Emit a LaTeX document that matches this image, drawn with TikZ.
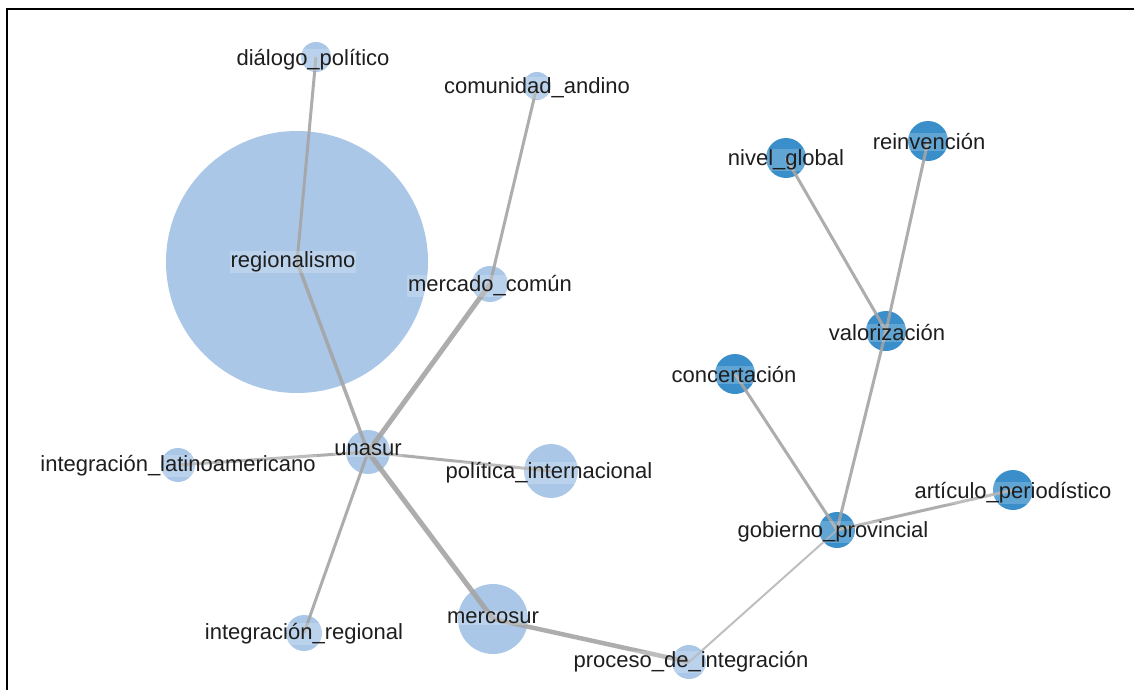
\documentclass[tikz,border=0pt]{standalone}
\usepackage{fontspec}
\setmainfont{Liberation Sans}
\begin{document}
\begin{tikzpicture}[x=1pt,y=-1pt,
  light/.style={circle,fill=lightnode,draw=none,inner sep=0pt,minimum size=#1},
  dark/.style={circle,fill=darknode,draw=none,inner sep=0pt,minimum size=#1},
  lbl/.style={fill=white,fill opacity=0.2,text opacity=1,text=labeltext,inner sep=1pt,font=\fontsize{22}{24}\selectfont},
  edge/.style={draw=edgegray,line width=#1,draw opacity=0.9},
  edge/.default=3pt]
\definecolor{lightnode}{RGB}{170,199,232}
\definecolor{darknode}{RGB}{58,143,202}
\definecolor{edgegray}{RGB}{165,165,165}
\definecolor{labeltext}{RGB}{30,30,30}
\useasboundingbox (0,0) rectangle (1134,690);
\fill[white] (0,0) rectangle (1134,690);
\draw[line width=2.5pt,black] (7,690) -- (7,9) -- (1134,9);
% circles
\node[light=262pt] (regi) at (297,262) {};
\node[light=30pt] (dial) at (316,57) {};
\node[light=28pt] (comu) at (537,86) {};
\node[light=36pt] (merc) at (490,284) {};
\node[light=44pt] (unas) at (368,452) {};
\node[light=34pt] (intl) at (178,465) {};
\node[light=54pt] (poli) at (551,471) {};
\node[light=36pt] (intr) at (304,633) {};
\node[light=70pt] (mcsr) at (493,619) {};
\node[light=34pt] (proc) at (689,662) {};
\node[dark=36pt] (gobi) at (837,530) {};
\node[dark=40pt] (arti) at (1013,490) {};
\node[dark=40pt] (conc) at (735,374) {};
\node[dark=40pt] (valo) at (886,331) {};
\node[dark=40pt] (nive) at (786,158) {};
\node[dark=40pt] (rein) at (928,141) {};
% edges
\draw[edge] (dial.center) -- (regi.center);
\draw[edge=3.5pt] (regi.center) -- (unas.center);
\draw[edge] (comu.center) -- (merc.center);
\draw[edge=5pt] (merc.center) -- (unas.center);
\draw[edge] (unas.center) -- (intl.center);
\draw[edge] (unas.center) -- (poli.center);
\draw[edge] (unas.center) -- (intr.center);
\draw[edge=5pt] (unas.center) -- (mcsr.center);
\draw[edge=4.5pt] (mcsr.center) -- (proc.center);
\draw[edge=2pt,draw opacity=0.7] (proc.center) -- (gobi.center);
\draw[edge] (gobi.center) -- (arti.center);
\draw[edge] (gobi.center) -- (conc.center);
\draw[edge] (gobi.center) -- (valo.center);
\draw[edge] (valo.center) -- (nive.center);
\draw[edge] (valo.center) -- (rein.center);
% labels
\node[lbl] (l-dial) at (313,60) {diálogo\_político};
\node[lbl] (l-comu) at (537,88) {comunidad\_andino};
\node[lbl] (l-regi) at (293,262) {regionalismo};
\node[lbl] (l-merc) at (490,286) {mercado\_común};
\node[lbl] (l-unas) at (368,450) {unasur};
\node[lbl] (l-intl) at (178,466) {integración\_latinoamericano};
\node[lbl] (l-poli) at (549,473) {política\_internacional};
\node[lbl] (l-intr) at (304,634) {integración\_regional};
\node[lbl] (l-mcsr) at (493,618) {mercosur};
\node[lbl] (l-proc) at (691,662) {proceso\_de\_integración};
\node[lbl] (l-gobi) at (833,532) {gobierno\_provincial};
\node[lbl] (l-arti) at (1013,493) {artículo\_periodístico};
\node[lbl] (l-conc) at (734,375) {concertación};
\node[lbl] (l-valo) at (887,333) {valorización};
\node[lbl] (l-nive) at (786,160) {nivel\_global};
\node[lbl] (l-rein) at (929,142) {reinvención};
\end{tikzpicture}
\end{document}
